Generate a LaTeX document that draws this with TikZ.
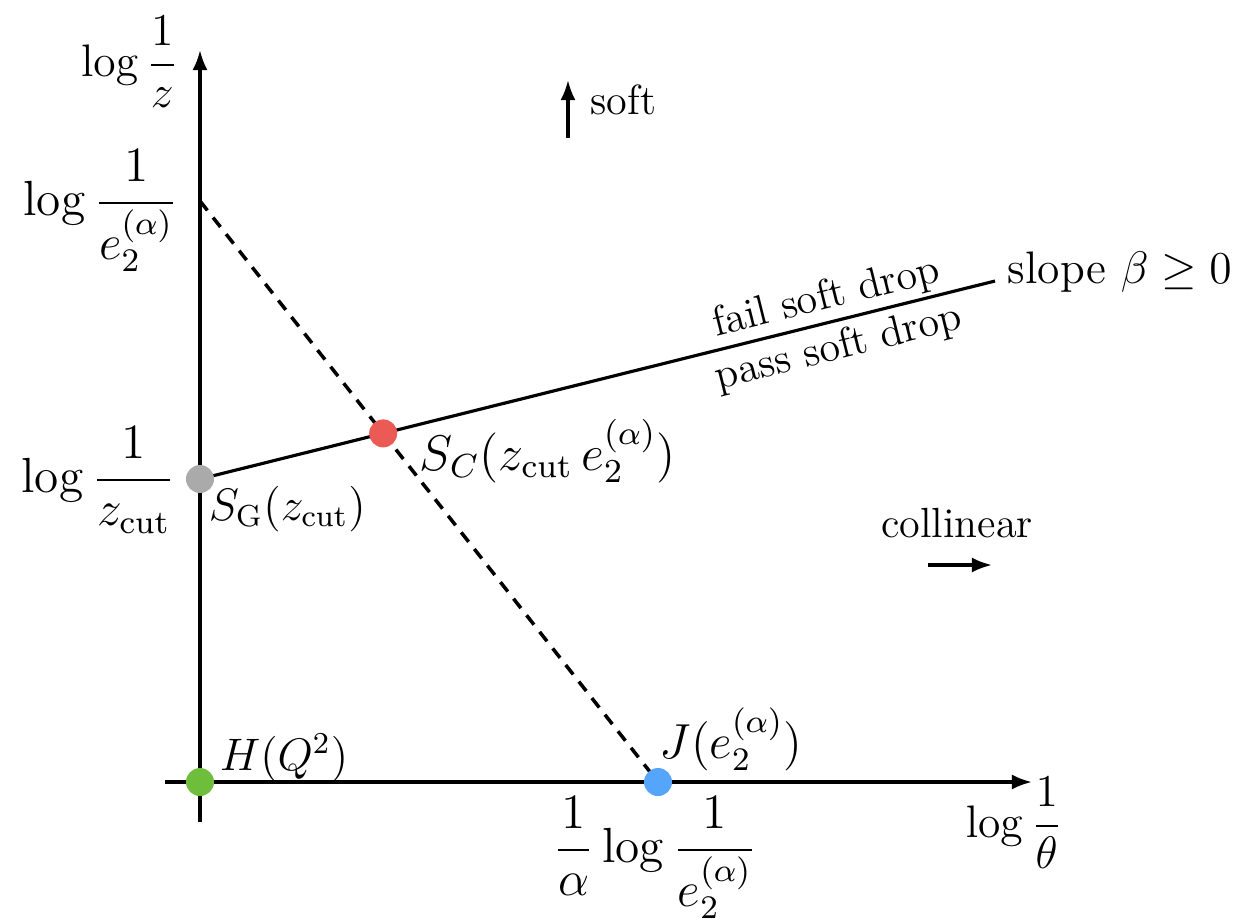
\documentclass[tikz,border=0pt]{standalone}
\usepackage{amsmath,amssymb}
\usetikzlibrary{arrows.meta, intersections}
\definecolor{dotred}{RGB}{235,90,85}
\definecolor{dotgreen}{RGB}{110,190,60}
\definecolor{dotblue}{RGB}{85,165,250}
\definecolor{dotgray}{RGB}{170,170,170}

\begin{document}
\begin{tikzpicture}[x=0.01cm, y=-0.01cm, font=\large,
  dot/.style={circle, inner sep=0pt, minimum size=0.28cm},
  tick/.style={inner sep=0pt},
  axislab/.style={tick, scale=1.08},
  valuelab/.style={tick, scale=1.17},
  pointlab/.style={tick, scale=1.08},
  axisarrow/.style={line width=0.9pt, -{Latex[length=0.2cm, width=0.15cm]}}]
  \useasboundingbox (0,0) rectangle (1239,920);

  % Axes
  \coordinate (ybot) at (200,822);
  \coordinate (ytop) at (200,50);
  \coordinate (xleft) at (165,782);
  \coordinate (xright) at (1032,782);
  \draw[axisarrow] (ybot) -- (ytop);
  \draw[axisarrow] (xleft) -- (xright);

  % Axis labels
  \node[axislab, anchor=base east] (zlab) at (179,76) {$\displaystyle\log\frac{1}{z}$};
  \node[axislab, anchor=base west] (thetalab) at (965,837) {$\displaystyle\log\frac{1}{\theta}$};
  \node[valuelab, anchor=base east] (elab) at (179,215) {$\displaystyle\log\frac{1}{e_2^{(\alpha)}}$};
  \node[valuelab, anchor=base east] (zcutlab) at (176,492) {$\displaystyle\log\frac{1}{z_{\mathrm{cut}}}$};
  \node[valuelab, anchor=base] (alphalab) at (655,862) {$\displaystyle\frac{1}{\alpha}\log\frac{1}{e_2^{(\alpha)}}$};

  % Key points
  \coordinate (hpt) at (200,782);
  \coordinate (jpt) at (658,782);
  \coordinate (sgpt) at (200,479);
  \coordinate (ept) at (200,201);
  \coordinate (slopeend) at (995,281);

  % Emission line and soft drop cut
  \draw[line width=1pt, dash pattern=on 3.4pt off 2.6pt, name path=emission] (ept) -- (jpt);
  \draw[line width=0.9pt, name path=sdcut] (sgpt) -- (slopeend)
    node[pos=0.795, sloped, above, inner sep=1pt] (faillab) {fail soft drop}
    node[pos=0.795, sloped, below, inner sep=2pt] (passlab) {pass soft drop};
  \path[name intersections={of=emission and sdcut, by=scpt}];
  \node[pointlab, anchor=base west] (slopelab) at (1007,283) {slope $\beta\geq 0$};

  % Dots
  \node[dot, fill=dotgreen] (H) at (hpt) {};
  \node[dot, fill=dotblue] (J) at (jpt) {};
  \node[dot, fill=dotgray] (SG) at (sgpt) {};
  \node[dot, fill=dotred] (SC) at (scpt) {};

  % Dot labels
  \node[pointlab, anchor=base west] (Hlab) at (219,770) {$H(Q^2)$};
  \node[pointlab, scale=1.08, anchor=base west] (Jlab) at (659,758) {$J(e_2^{(\alpha)})$};
  \node[pointlab, anchor=base west] (SGlab) at (208,520) {$S_{\mathrm{G}}(z_{\mathrm{cut}})$};
  \node[pointlab, scale=1.1, anchor=base west] (SClab) at (419,470) {$S_C(z_{\mathrm{cut}}\,e_2^{(\alpha)})$};

  % Direction arrows
  \coordinate (softtail) at (568,138);
  \coordinate (softhead) at (568,80);
  \draw[axisarrow] (softtail) -- (softhead);
  \node[tick, anchor=base west] (softlab) at (590,114) {soft};
  \coordinate (colltail) at (928,565);
  \coordinate (collhead) at (992,565);
  \draw[axisarrow] (colltail) -- (collhead);
  \node[tick, anchor=base] (colllab) at (957,537) {collinear};
\end{tikzpicture}
\end{document}
